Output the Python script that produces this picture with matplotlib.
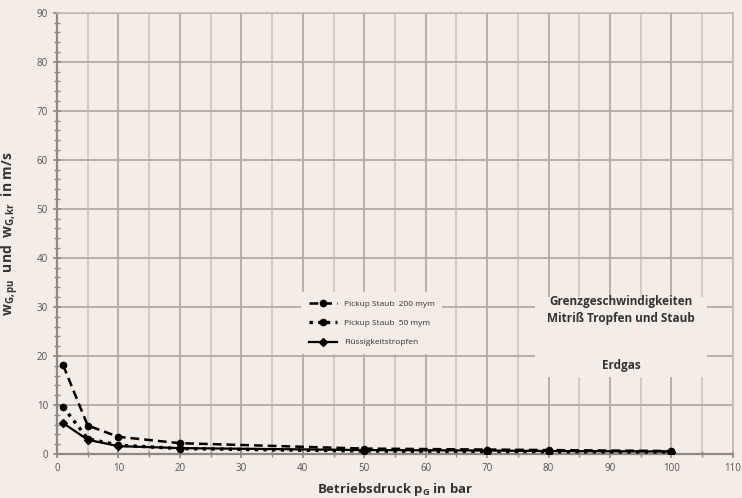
import matplotlib.pyplot as plt
from matplotlib.ticker import MultipleLocator
from matplotlib.patches import Rectangle

# Betriebsdruck in bar
druck = [1, 5, 10, 20, 50, 70, 80, 100]
# Grenzgeschwindigkeiten in m/s
staub_200 = [18.1, 5.8, 3.5, 2.2, 1.1, 0.9, 0.8, 0.6]
staub_50 = [9.6, 3.1, 1.8, 1.1, 0.6, 0.5, 0.45, 0.4]
tropfen = [6.3, 2.9, 1.6, 1.2, 0.8, 0.7, 0.6, 0.5]

bg = '#f4ece6'
plt.rcParams['font.family'] = ['Open Sans', 'DejaVu Sans']

fig = plt.figure(figsize=(7.42, 4.98), dpi=100, facecolor=bg)
ax = fig.add_axes([0.0768, 0.0884, 0.911, 0.886], facecolor=bg)

ax.plot(druck, staub_200, color='black', linestyle=(0, (3.5, 2)), linewidth=1.8,
        marker='o', markersize=4.5, label='Pickup Staub  200 mym', zorder=5)
ax.plot(druck, staub_50, color='black', linestyle=(0, (1, 1.6)), linewidth=2.4,
        marker='o', markersize=4.5, label='Pickup Staub  50 mym', zorder=5)
ax.plot(druck, tropfen, color='black', linestyle='-', linewidth=1.6,
        marker='D', markersize=4, label='Flüssigkeitstropfen', zorder=5)

ax.set_xlim(0, 110)
ax.set_ylim(0, 90)
ax.xaxis.set_major_locator(MultipleLocator(10))
ax.xaxis.set_minor_locator(MultipleLocator(5))
ax.yaxis.set_major_locator(MultipleLocator(10))
ax.yaxis.set_minor_locator(MultipleLocator(2))

ax.grid(which='major', axis='both', color='#b3aaa5', linewidth=1.3)
ax.grid(which='minor', axis='x', color='#cbc2bd', linewidth=1.1)
ax.set_axisbelow(True)

for s in ['top', 'right']:
    ax.spines[s].set_color('#c2bab5')
    ax.spines[s].set_linewidth(1.2)
for s in ['left', 'bottom']:
    ax.spines[s].set_color('#8f8985')
    ax.spines[s].set_linewidth(1.6)

ax.tick_params(which='major', direction='inout', length=6, width=1.2,
               color='#8f8985', labelsize=7, labelcolor='#555555')
ax.tick_params(which='minor', direction='inout', length=4, width=1.0,
               color='#8f8985')

ax.set_xlabel('Betriebsdruck p$_\\mathregular{G}$ in bar', fontsize=9.5,
              fontweight='bold', color='#333333', labelpad=5)
ax.set_ylabel('w$_\\mathregular{G,pu}$  und  w$_\\mathregular{G,kr}$  in m/s',
              fontsize=10, fontweight='bold', color='#333333', labelpad=11)

leg = ax.legend(loc='upper left', bbox_to_anchor=(297 / 742, 1 - 288 / 498),
                bbox_transform=fig.transFigure, frameon=True, fontsize=6,
                handlelength=3.4, labelspacing=1.4, borderpad=0.9)
leg.get_frame().set_facecolor(bg)
leg.get_frame().set_edgecolor('none')
leg.get_frame().set_alpha(1)
for t in leg.get_texts():
    t.set_color('#333333')

# Kasten fuer die Beschriftung rechts
fig.patches.append(Rectangle((535 / 742, 1 - 377 / 498), 172 / 742, 80 / 498,
                             transform=fig.transFigure, facecolor=bg,
                             edgecolor='none', zorder=3))
fig.text(621 / 742, 1 - 310 / 498,
         'Grenzgeschwindigkeiten\nMitriß Tropfen und Staub',
         ha='center', va='center', fontsize=8.5, fontweight='bold',
         color='#333333', linespacing=1.4, zorder=4)
fig.text(621 / 742, 1 - 365 / 498, 'Erdgas', ha='center', va='center',
         fontsize=8.5, fontweight='bold', color='#333333', zorder=4)

fig.savefig('out.png', dpi=100, facecolor=bg)
